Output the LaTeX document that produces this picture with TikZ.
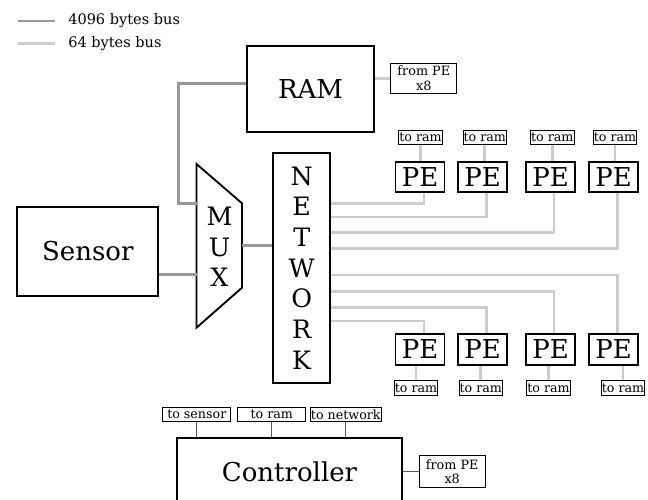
\documentclass[tikz,border=0pt]{standalone}
\usepackage{fontspec}
\setmainfont{DejaVu Serif}
\usetikzlibrary{calc}

\begin{document}
\begin{tikzpicture}[x=.75pt, y=-.75pt,
        block/.style={draw, line width=1.4pt, inner sep=0pt, font=\fontsize{19.5}{23}\selectfont},
        pe/.style={block, minimum width=36.75pt, minimum height=23pt},
        tag/.style={draw, line width=.6pt, inner sep=.5pt, minimum height=11pt, font=\fontsize{9.5}{11}\selectfont},
        bigbus/.style={draw=black!40, line width=2pt},
        smallbus/.style={draw=black!20, line width=2pt},
        ctrlline/.style={draw=black!65, line width=.8pt}]
        \useasboundingbox (0,0) rectangle (648,499);
        \clip (0,0) rectangle (648,499);

        % legend
        \coordinate (legA) at (18,21);
        \coordinate (legB) at (18,43.3);
        \draw [bigbus] (legA) -- ++(36.5,0);
        \draw [smallbus] (legB) -- ++(36.5,0);
        \node (leg1) at (68,25) [anchor=base west, inner sep=0pt, font=\fontsize{10.9}{13}\selectfont]{4096 bytes bus};
        \node (leg2) at (68,47.3) [anchor=base west, inner sep=0pt, font=\fontsize{10.9}{13}\selectfont]{64 bytes bus};

        % ram, sensor, mux, network
        \node (ram) at (310.5,89) [block, minimum width=95.25pt, minimum height=64.5pt]{RAM};
        \node (ramin) at (423.8,78.3) [tag, minimum width=49.5pt, minimum height=22.5pt, align=center, font=\fontsize{9.6}{10.8}\selectfont]{from PE\\x8};
        \draw [smallbus] (ramin.west) -- (ramin.west -| ram.east);

        \node (sensor) at (87.8,251.4) [block, minimum width=105.75pt, minimum height=67pt]{Sensor};

        \coordinate (muxa) at (196.5,203.3);
        \coordinate (muxb) at (196.5,274.3);
        \coordinate (muxc) at (242,245.7);
        \draw [line width=1.4pt] (196.5,164)--(242,203.3)--(242,287.7)--(196.5,327.7)--cycle;
        \node (mux) at (219.5,247) [align=center, inner sep=0pt, font=\fontsize{19}{23}\selectfont]{M\\U\\X};

        \node (net) at (301.7,268) [block, minimum width=42.5pt, minimum height=173pt, align=center, font=\fontsize{19}{23}\selectfont]{N\\E\\T\\W\\O\\R\\K};

        \draw [bigbus] ($(ram.west)+(0,-5.7)$) -- ++(-67.7,0) |- (muxa);
        \draw [bigbus] (sensor.east |- muxb) -- (muxb);
        \draw [bigbus] (muxc) -- (muxc -| net.west);

        % processing elements, upper row
        \node (pe1) at (420,177) [pe]{PE};
        \node (pe2) at (482.5,177) [pe]{PE};
        \node (pe3) at (550.5,177) [pe]{PE};
        \node (pe4) at (613.5,177) [pe]{PE};
        \node (ta1) at (420.5,137.5) [tag]{to ram};
        \node (ta2) at (484.8,137.5) [tag]{to ram};
        \node (ta3) at (552.3,137.5) [tag]{to ram};
        \node (ta4) at (615,137.5) [tag]{to ram};
        \draw [smallbus] (ta1.south) -- (ta1.south |- pe1.north);
        \draw [smallbus] (ta2.south) -- (ta2.south |- pe2.north);
        \draw [smallbus] (ta3.south) -- (ta3.south |- pe3.north);
        \draw [smallbus] (ta4.south) -- (ta4.south |- pe4.north);
        \draw [smallbus] ([yshift=48.5pt]net.east) -| ([xshift=3pt]pe1.south);
        \draw [smallbus] ([yshift=38.3pt]net.east) -| ([xshift=3pt]pe2.south);
        \draw [smallbus] ([yshift=26.6pt]net.east) -| ([xshift=2.7pt]pe3.south);
        \draw [smallbus] ([yshift=14.8pt]net.east) -| ([xshift=2.8pt]pe4.south);

        % processing elements, lower row
        \node (pe5) at (420,349.5) [pe]{PE};
        \node (pe6) at (482.5,349.5) [pe]{PE};
        \node (pe7) at (550.5,349.5) [pe]{PE};
        \node (pe8) at (613.5,349.5) [pe]{PE};
        \node (tb1) at (416,388) [tag]{to ram};
        \node (tb2) at (480.8,388) [tag]{to ram};
        \node (tb3) at (548.5,388) [tag]{to ram};
        \node (tb4) at (623,388) [tag]{to ram};
        \draw [smallbus] (tb1.north) -- (tb1.north |- pe5.south);
        \draw [smallbus] (tb2.north) -- (tb2.north |- pe6.south);
        \draw [smallbus] (tb3.north) -- (tb3.north |- pe7.south);
        \draw [smallbus] (tb4.north) -- (tb4.north |- pe8.south);
        \draw [smallbus] ([yshift=-39.75pt]net.east) -| ([xshift=3pt]pe5.north);
        \draw [smallbus] ([yshift=-29.5pt]net.east) -| ([xshift=3pt]pe6.north);
        \draw [smallbus] ([yshift=-17.8pt]net.east) -| ([xshift=2.7pt]pe7.north);
        \draw [smallbus] ([yshift=-5.25pt]net.east) -| ([xshift=2.8pt]pe8.north);

        % controller
        \node (ctrl) at (289.5,471.7) [block, minimum width=169.2pt, minimum height=50pt]{Controller};
        \node (ts) at (196.8,414.5) [tag, minimum width=51pt]{to sensor};
        \node (tr) at (271.7,414.5) [tag, minimum width=51pt]{to ram};
        \node (tn) at (345.8,414.5) [tag, minimum width=51pt]{to network};
        \draw [ctrlline] (ts.south) -- (ts.south |- ctrl.north);
        \draw [ctrlline] (tr.south) -- (tr.south |- ctrl.north);
        \draw [ctrlline] (tn.south) -- (tn.south |- ctrl.north);
        \node (ctrlin) at (452.2,471.5) [tag, minimum width=49.3pt, minimum height=23.7pt, align=center, font=\fontsize{9.6}{10.8}\selectfont]{from PE\\x8};
        \draw [ctrlline] (ctrlin.west) -- (ctrlin.west -| ctrl.east);

\end{tikzpicture}
\end{document}
